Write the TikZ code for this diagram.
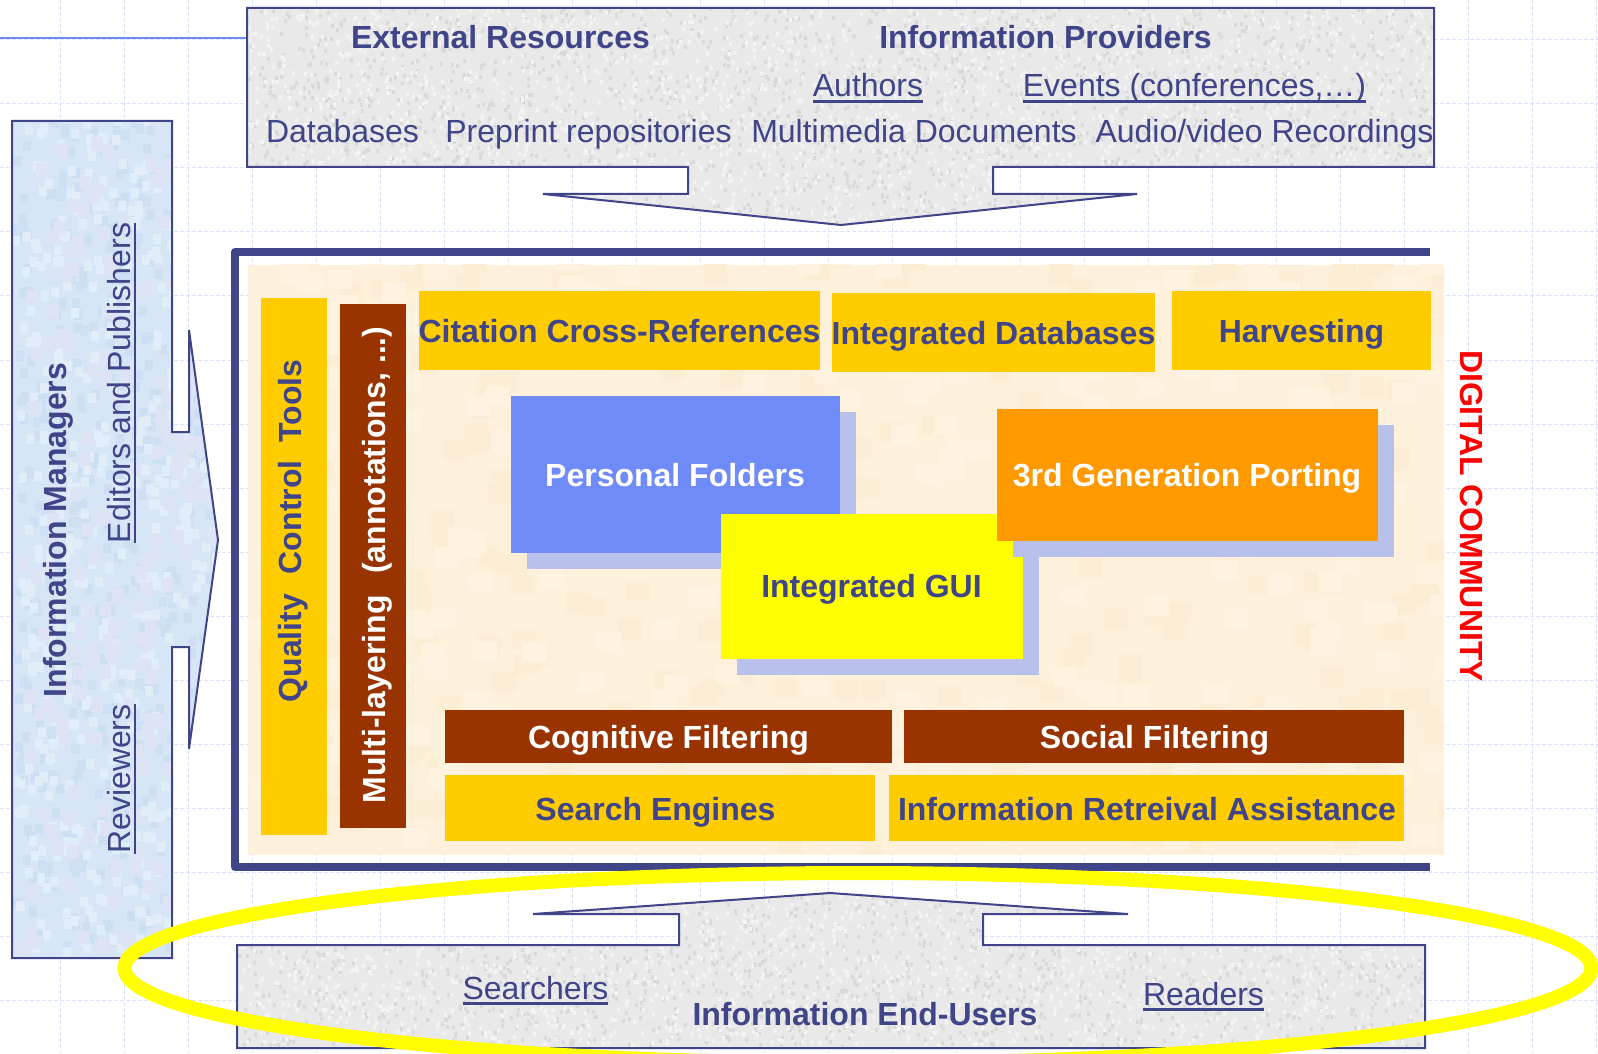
\documentclass[tikz,border=0pt]{standalone}
\usepackage{fontspec}
\usetikzlibrary{shapes.geometric}
\setmainfont{Liberation Sans}
\definecolor{ink}{HTML}{404488}
\definecolor{gridc}{HTML}{DCE3FD}
\definecolor{gold}{HTML}{FFCC00}
\definecolor{brownc}{HTML}{993300}
\definecolor{bluec}{HTML}{6E8BF8}
\definecolor{orangec}{HTML}{FF9900}
\definecolor{shadowc}{HTML}{B8C1EB}
\definecolor{yellowc}{HTML}{FFFF00}
\definecolor{creamc}{HTML}{FDF1DC}
\definecolor{creamd}{HTML}{FBEED5}
\definecolor{creaml}{HTML}{FEF3E1}
\definecolor{panelc}{HTML}{D7E6F7}
\definecolor{panela}{HTML}{CDDFF3}
\definecolor{panelb}{HTML}{E1EEF9}
\definecolor{panelp}{HTML}{DEE3F5}
\definecolor{greyc}{HTML}{E9E9E9}
\definecolor{greya}{HTML}{DADADA}
\definecolor{greyb}{HTML}{F3F3F3}
\newcommand{\ulc}[1]{\setbox0=\hbox{#1}\leavevmode\rlap{\raisebox{-2.9pt}{\rule{\wd0}{1.4pt}}}\box0 }
% \grainbox{x0}{y0}{x1}{y1}{count}{w pt}{h pt}{colour}: light on memory
\newcommand{\grainbox}[8]{%
  \begin{pgfscope}\pgfsetfillcolor{#8}%
  \foreach \i in {1,...,#5}{%
    \pgfmathsetmacro{\rx}{(#1+rnd*(#3-#1))*0.5}%
    \pgfmathsetmacro{\ry}{-(#2+rnd*(#4-#2))*0.5}%
    \pgfpathrectangle{\pgfqpoint{\rx pt}{\ry pt}}{\pgfqpoint{#6pt}{#7pt}}%
    \pgfusepath{fill}%
  }\end{pgfscope}}
\tikzset{
  x=0.5pt,y=-0.5pt,
  gridline/.style={gridc,line width=0.5pt,dash pattern=on 2pt off 1pt},
  edge/.style={ink,line width=1pt,line join=miter},
  bx/.style={draw=none,inner sep=0pt,outer sep=0pt,rectangle},
  lab/.style={anchor=base,inner sep=0pt,outer sep=0pt,font=\fontsize{16}{18}\selectfont,text=ink},
  bold/.style={lab,font=\fontsize{16}{18}\selectfont\bfseries},
  wbold/.style={bold,text=white},
}
\newcommand{\topshape}{(247,8) -- (1434,8) -- (1434,167) -- (993,167) -- (993,194) -- (1137,194) -- (841,225) -- (543,194) -- (688,194) -- (688,167) -- (247,167) -- cycle}
\newcommand{\botshape}{(237,945) -- (679,945) -- (679,914) -- (533,914) -- (830,893) -- (1128,914) -- (983,914) -- (983,945) -- (1425,945) -- (1425,1048) -- (237,1048) -- cycle}
\newcommand{\leftshape}{(12,121) -- (172,121) -- (172,432) -- (189,432) -- (189,330) -- (218,540) -- (189,749) -- (189,647) -- (172,647) -- (172,958) -- (12,958) -- cycle}
\begin{document}
\begin{tikzpicture}
\pgfmathsetseed{4242}
\useasboundingbox (0,0) rectangle (1598,1053);
\fill[white] (0,0) rectangle (1598,1053);
% grid
\foreach \gx in {60,124,...,1596}{\draw[gridline] (\gx,0) -- (\gx,1053);}
\foreach \gy in {40,104,...,1000}{\draw[gridline] (0,\gy) -- (1598,\gy);}
\draw[bluec,line width=1pt] (0,38) -- (247,38);
% top panel
\begin{scope}
\clip \topshape;
\fill[greyc] (240,0) rectangle (1440,230);
\grainbox{247}{8}{1434}{225}{2000}{1.5}{2}{greya}
\grainbox{247}{8}{1434}{225}{2000}{1.5}{2}{greyb}
\end{scope}
\draw[edge] \topshape;
% left panel
\begin{scope}
\clip \leftshape;
\fill[panelc] (0,110) rectangle (225,965);
\grainbox{12}{121}{218}{958}{500}{4}{5}{panela}
\grainbox{12}{121}{218}{958}{500}{4}{5}{panelb}
\grainbox{12}{121}{218}{958}{200}{6}{7}{panelp}
\end{scope}
\draw[edge] \leftshape;
% bottom panel
\begin{scope}
\clip \botshape;
\fill[greyc] (230,885) rectangle (1430,1053);
\grainbox{237}{893}{1425}{1048}{1500}{1.5}{2}{greya}
\grainbox{237}{893}{1425}{1048}{1500}{1.5}{2}{greyb}
\end{scope}
\draw[edge] \botshape;
% cream panel
\begin{scope}
\clip (248,265) rectangle (1444,855);
\fill[creamc] (248,265) rectangle (1444,855);
\grainbox{248}{265}{1444}{855}{300}{12}{10}{creamd}
\grainbox{248}{265}{1444}{855}{300}{12}{10}{creaml}
\end{scope}
% frame
\coordinate (frameTR) at (1430,252);
\coordinate (frameBR) at (1430,867);
\draw[ink,line width=4pt,line join=round] (frameTR) -- (235,252) -- (235,867) -- (frameBR);
% yellow ring
\node[draw=yellowc,line width=7pt,shape=ellipse,minimum width=733.5pt,minimum height=95pt,inner sep=0pt,outer sep=0pt] (ring) at (858,968) {};
% boxes
\node[bx,fill=gold,minimum width=33pt,minimum height=268.5pt] (quality) at (294,566.5) {};
\node[bx,fill=brownc,minimum width=33pt,minimum height=262pt] (multi) at (373,566) {};
\node[bx,fill=gold,minimum width=200.5pt,minimum height=39.5pt] (citation) at (619.5,330.5) {};
\node[bx,fill=gold,minimum width=161.5pt,minimum height=39.5pt] (intdb) at (993.5,332.5) {};
\node[bx,fill=gold,minimum width=129.5pt,minimum height=39.5pt] (harvest) at (1301.5,330.5) {};
\node[bx,fill=shadowc,minimum width=164.5pt,minimum height=78.5pt] (persShadow) at (691.5,490.5) {};
\node[bx,fill=bluec,minimum width=164.5pt,minimum height=78.5pt] (personal) at (675.5,474.5) {};
\node[bx,fill=shadowc,minimum width=151pt,minimum height=72.5pt] (guiShadow) at (888,602.5) {};
\node[bx,fill=yellowc,minimum width=151pt,minimum height=72.5pt] (gui) at (872,586.5) {};
\node[bx,fill=shadowc,minimum width=190.5pt,minimum height=66pt] (portShadow) at (1203.5,491) {};
\node[bx,fill=orangec,minimum width=190.5pt,minimum height=66pt] (port) at (1187.5,475) {};
\node[bx,fill=brownc,minimum width=223.5pt,minimum height=26.5pt] (cognitive) at (668.5,736.5) {};
\node[bx,fill=brownc,minimum width=250pt,minimum height=26.5pt] (social) at (1154,736.5) {};
\node[bx,fill=gold,minimum width=215pt,minimum height=33pt] (search) at (660,808) {};
\node[bx,fill=gold,minimum width=257.5pt,minimum height=33pt] (retrieval) at (1146.5,808) {};
% labels
\node[bold] (tExt) at (500.5,49) {External Resources};
\node[bold] (tProv) at (1045.5,49) {Information Providers};
\node[lab] (tAuth) at (868,97) {\ulc{Authors}};
\node[lab] (tEvents) at (1194.5,97) {\ulc{Events (conferences,…)}};
\node[lab] (tDb) at (342.5,143) {Databases};
\node[lab] (tPre) at (588.5,143) {Preprint repositories};
\node[lab] (tMulti) at (914,143) {Multimedia Documents};
\node[lab] (tAudio) at (1264.5,143) {Audio/video Recordings};
\node[bold] (tCit) at (619.5,343) {Citation Cross-References};
\node[bold] (tDbs) at (993.5,344) {Integrated Databases};
\node[bold] (tHarv) at (1301.5,343) {Harvesting};
\node[wbold] (tPers) at (675,486) {Personal Folders};
\node[wbold] (tPort) at (1187,486) {3rd Generation Porting};
\node[bold] (tGui) at (871.5,597) {Integrated GUI};
\node[wbold] (tCog) at (668.5,748) {Cognitive Filtering};
\node[wbold] (tSoc) at (1154.5,748) {Social Filtering};
\node[bold] (tSearch) at (655.5,820) {Search Engines};
\node[bold] (tRetr) at (1147,820) {Information Retreival Assistance};
\node[bold] (tEnd) at (865,1025) {Information End-Users};
\node[lab] (tSearchers) at (535.5,999) {\ulc{Searchers}};
\node[lab] (tReaders) at (1203.5,1005) {\ulc{Readers}};
\node[bold,rotate=90] (tMgr) at (66,530) {Information Managers};
\node[lab,rotate=90] (tEd) at (130.5,383) {\ulc{Editors and Publishers}};
\node[lab,rotate=90] (tRev) at (130.5,779) {\ulc{Reviewers}};
\node[bold,rotate=90] (tQual) at (301.5,531) {Quality\ \ \hspace{1pt}Control\ \ Tools};
\node[wbold,rotate=90] (tLayer) at (385,565) {Multi-layering\ \ \hspace{2pt}(annotations, ...)};
\node[bold,rotate=-90,text=red] (tDig) at (1460,516) {DIGITAL COMMUNITY};
\end{tikzpicture}
\end{document}
